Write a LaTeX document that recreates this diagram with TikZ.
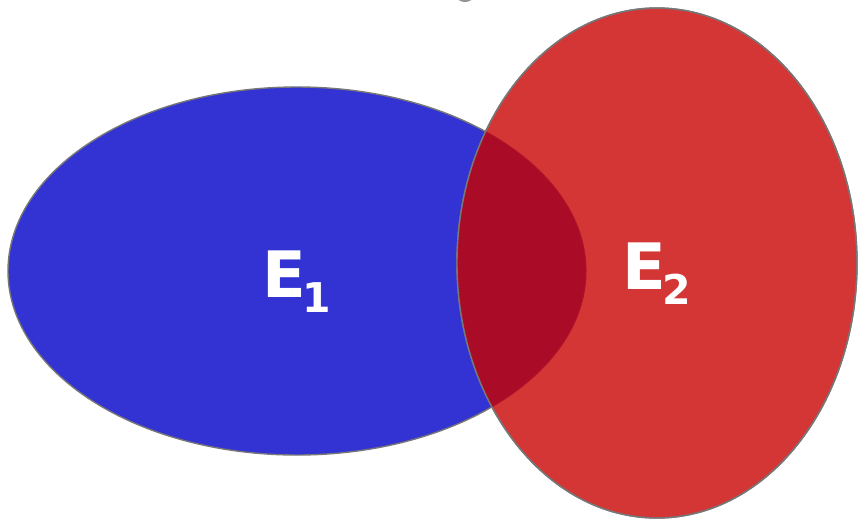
\documentclass[tikz,border=0pt]{standalone}
\usepackage{fontspec}
\setmainfont{DejaVu Sans}
\definecolor{setblue}{HTML}{3333D4}
\definecolor{setred}{HTML}{D43535}
\definecolor{setboth}{HTML}{AA0C28}
\definecolor{rim}{HTML}{777777}
\begin{document}
\begin{tikzpicture}[x=1pt,y=-1pt,
  rimline/.style={draw=rim,line width=1.4pt},
  setlabel/.style={anchor=base west,inner sep=0pt,text=white,font=\bfseries\fontsize{64}{64}\selectfont}]
\useasboundingbox (0,0) rectangle (858,520);
% small grey shape peeking in at the top edge
\begin{scope}
  \clip (0,0) rectangle (858,520);
  \fill[rim!80] (465,-5) ellipse [x radius=9, y radius=7];
\end{scope}
% set E1
\path[rimline,fill=setblue] (297,271) ellipse [x radius=289, y radius=184];
% set E2
\path[rimline,fill=setred] (657,263) ellipse [x radius=200, y radius=255];
% overlap of the two sets
\begin{scope}
  \clip (657,263) ellipse [x radius=200, y radius=255];
  \path[fill=setboth,draw=setboth!85!setred,line width=1pt] (297,271) ellipse [x radius=289, y radius=184];
\end{scope}
\draw[rim,line width=1.4pt] (657,263) ellipse [x radius=200, y radius=255];
% labels
\node[setlabel] (e1) at (262,297) {E\kern-3pt\raisebox{-15pt}{\fontsize{41}{41}\selectfont 1}};
\node[setlabel] (e2) at (622,289) {E\kern-3pt\raisebox{-15pt}{\fontsize{41}{41}\selectfont 2}};
\end{tikzpicture}
\end{document}
